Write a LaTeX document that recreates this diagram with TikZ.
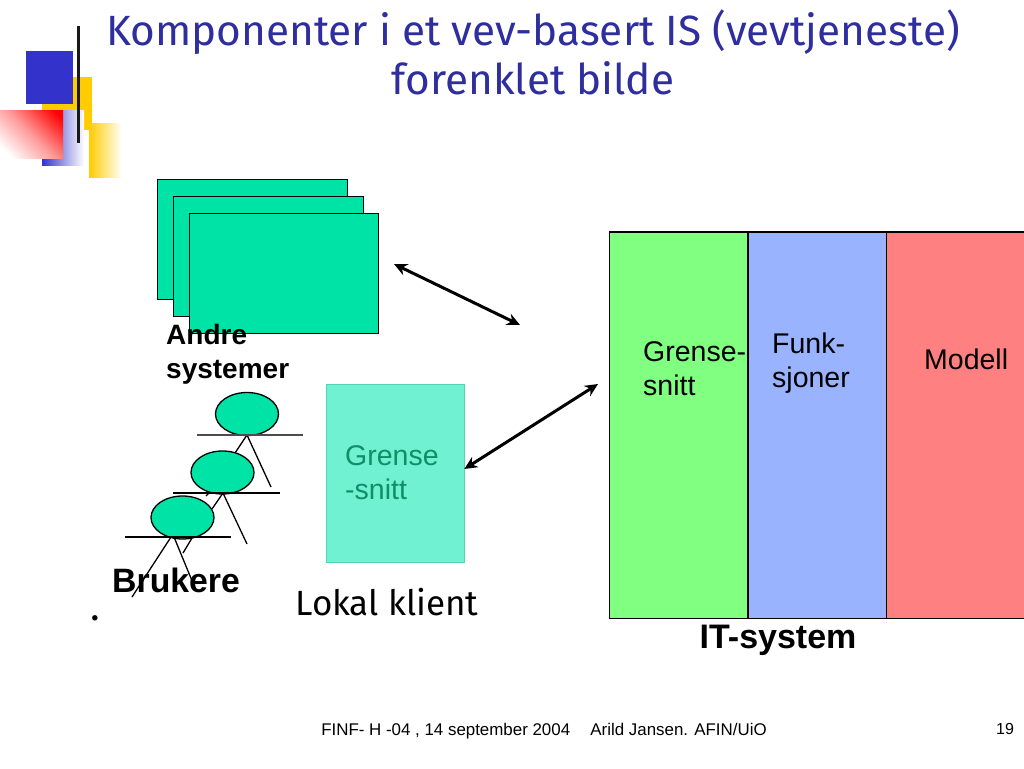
\documentclass[tikz,border=0pt]{standalone}
\usepackage{fontspec}
\setmainfont{Liberation Sans}
\newfontfamily\titlefont{Fira Sans}
\usetikzlibrary{arrows.meta,shapes.geometric}
\definecolor{titleblue}{HTML}{2E2E9E}
\definecolor{decoblue}{HTML}{3333CC}
\definecolor{decoyellow}{HTML}{FFCC00}
\definecolor{sysgreen}{HTML}{00E3A6}
\definecolor{clientgreen}{HTML}{70F2D2}
\definecolor{clienttext}{HTML}{0F8F66}
\definecolor{panelgreen}{HTML}{80FF80}
\definecolor{panelblue}{HTML}{99B3FF}
\definecolor{panelred}{HTML}{FF8080}
\pgfdeclareverticalshading{redfade}{100bp}{color(0bp)=(white); color(22bp)=(white); color(50bp)=(red!40!white); color(80bp)=(red); color(100bp)=(red)}
\tikzset{
  x=1pt,y=-1pt,
  sysbox/.style={draw=black,fill=sysgreen,line width=1.3pt,minimum width=189.5pt,minimum height=119.5pt,inner sep=0pt},
  panel/.style={draw=black,line width=1.8pt,minimum width=138.5pt,minimum height=386.5pt,inner sep=0pt},
  head/.style={draw=black,fill=sysgreen,ellipse,line width=1.3pt,minimum width=63pt,minimum height=43pt,inner sep=0pt},
  limb/.style={draw=black,line width=1.3pt},
  shoulder/.style={draw=black!70,line width=1.3pt},
  lbl/.style={font=\fontsize{28.5}{34}\selectfont,align=left,inner sep=0pt},
  bold/.style={font=\fontsize{28}{34}\selectfont\bfseries,align=left,inner sep=0pt},
  twoway/.style={line width=3pt,{Stealth[length=13pt,width=12pt]}-{Stealth[length=13pt,width=12pt]}},
  titletext/.style={text=titleblue,font=\titlefont\fontsize{42.3}{49}\selectfont,align=center,inner sep=0pt},
}
\begin{document}
\begin{tikzpicture}
\useasboundingbox (0,0) rectangle (1024,768);
% decoration
\fill[decoyellow] (42,77) rectangle (92,130);
\shade[left color=decoblue,right color=white] (42,110) rectangle (84,165);
\fill[decoblue] (26,51) rectangle (73,104);
\shade[left color=decoyellow,right color=white] (89,123) rectangle (122,177);
\shade[shading=redfade,shading angle=-45] (0,110) rectangle (63,158);
\draw[black!90,line width=3.5pt] (78.5,26) -- (78.5,143);
% title
\node[titletext] (title) at (533,52.5) {Komponenter i et vev-basert IS (vevtjeneste)\\forenklet bilde};
% other systems
\node[sysbox,anchor=north west] (sysa) at (157,179) {};
\node[sysbox,anchor=north west] (sysb) at (173,196) {};
\node[sysbox,anchor=north west] (sysc) at (188.5,213) {};
\node[bold,anchor=north west] (andre) at (166,324.5) {Andre\\systemer};
% users
\coordinate (s1c) at (247,435);
\draw[limb] (s1c) -- (235,453);
\draw[limb] (s1c) -- (271,487);
\coordinate (s2c) at (223,493);
\draw[limb] (s2c) -- (212,509);
\draw[limb] (s2c) -- (247,544);
\coordinate (s3c) at (171,537);
\draw[limb] (s3c) -- (132,597);
\draw[limb] (174,537) -- (195,588);
\draw[limb] (192,538) -- (183,553);
\draw[limb] (209,493) -- (206,496);
\node[head] (h1) at (247,414) {};
\node[head] (h2) at (222.5,472.5) {};
\node[head] (h3) at (182.5,517.5) {};
\coordinate (s1l) at (197,435); \coordinate (s1r) at (303,435);
\coordinate (s2l) at (173,493); \coordinate (s2r) at (280,493);
\coordinate (s3l) at (125,537); \coordinate (s3r) at (231,537);
\draw[shoulder] (s1l) -- (s1r);
\draw[limb] (s2l) -- (s2r);
\draw[limb] (s3l) -- (s3r);
\node[bold,anchor=base west,font=\fontsize{33.8}{38}\selectfont\bfseries] (brukere) at (112,592) {Brukere};
\node[anchor=base,font=\titlefont\bfseries\fontsize{30}{34}\selectfont,inner sep=0pt] (dot) at (95,620) {.};
% local client
\node[draw=clientgreen!70!clienttext,fill=clientgreen,line width=.8pt,minimum width=137.5pt,minimum height=177.5pt,inner sep=0pt,anchor=north west] (client) at (326,384) {};
\node[lbl,text=clienttext,anchor=north west] (clientlbl) at (345,445) {Grense\\-snitt};
\node[anchor=base,font=\titlefont\fontsize{35}{38}\selectfont,inner sep=0pt] (lokal) at (387,615) {Lokal klient};
% IT system
\node[panel,fill=panelgreen,anchor=north west] (pa) at (608.5,231) {};
\node[panel,fill=panelblue,anchor=north west] (pb) at (747.5,231) {};
\node[panel,fill=panelred,anchor=north west] (pc) at (885.5,231) {};
\node[lbl,anchor=north west] (pal) at (643,341) {Grense-\\snitt};
\node[lbl,anchor=north west] (pbl) at (772,333) {Funk-\\sjoner};
\node[lbl,anchor=north west] (pcl) at (924,349) {Modell};
\node[bold,anchor=base,font=\fontsize{34}{38}\selectfont\bfseries] (its) at (778,648) {IT-system};
% connectors
\coordinate (a1) at (394,264);
\coordinate (a2) at (520,325);
\coordinate (b1) at (598,384);
\draw[twoway] (a1) -- (a2);
\draw[twoway] (client.east |- 0,469) -- (b1);
% footer
\node[anchor=base,font=\fontsize{16.9}{18}\selectfont,inner sep=0pt] (foot) at (544,735) {FINF- H -04 , 14 september 2004\hspace{1.2em}Arild Jansen. AFIN/UiO};
\node[anchor=base,font=\fontsize{16}{18}\selectfont,inner sep=0pt] (num) at (1005,734) {19};
\end{tikzpicture}
\end{document}
